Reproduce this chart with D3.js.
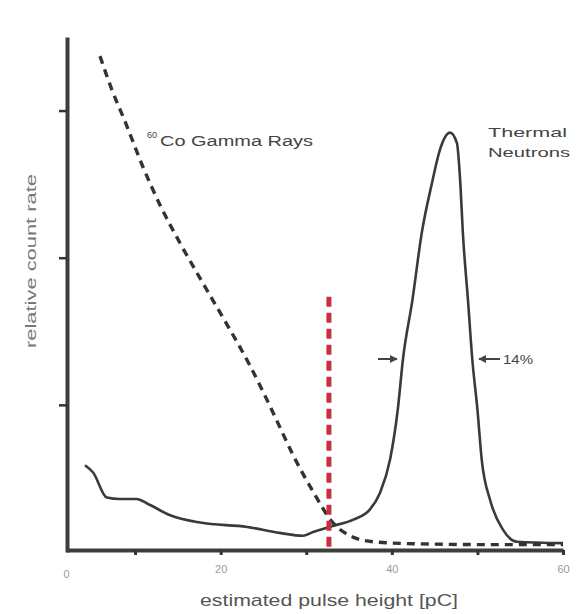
<!DOCTYPE html>
<html>
<head>
<meta charset="utf-8">
<script src="https://cdn.jsdelivr.net/npm/d3@7"></script>
<style>
  body { margin: 0; background: #fff; }
  text { font-family: "Liberation Sans", Arial, sans-serif; }
</style>
</head>
<body>
<div id="chart"></div>
<script>
// pulse height spectra (x in pC, y in arbitrary units)
var gammaX = [5.9, 7.3, 8.8, 10.9, 12.9, 15.25, 17.6, 20.5, 23.4, 26.1, 28.45, 30.8, 33.1, 35.5, 37.8, 43.3, 52.6, 60];
var gammaY = [3.37, 3.14, 2.93, 2.62, 2.36, 2.10, 1.86, 1.57, 1.27, 0.95, 0.66, 0.41, 0.20, 0.10, 0.07, 0.055, 0.05, 0.05];

var neutronX = [4.15, 5.1, 6.7, 8.2, 10.2, 11.4, 14.1, 17.6, 23.1, 26.9, 29.6, 30.8, 33.1, 35.5, 37.45, 38.6, 39.8, 40.7, 41.3, 42.4, 43.5, 44.7, 45.6, 46.8, 47.6, 48.0, 48.3, 48.9, 49.4, 50.0, 50.5, 51.5, 53.0, 54.6, 60];
var neutronY = [0.59, 0.54, 0.37, 0.36, 0.36, 0.33, 0.25, 0.20, 0.17, 0.13, 0.11, 0.136, 0.177, 0.22, 0.29, 0.40, 0.63, 0.97, 1.31, 1.71, 2.17, 2.51, 2.73, 2.85, 2.78, 2.51, 2.17, 1.71, 1.31, 0.97, 0.63, 0.35, 0.15, 0.07, 0.06];

var cutX = 32.65, cutTop = 1.735;   // red discrimination threshold
var xTicks = [10, 20, 30, 40, 50, 60];
var xLabels = [20, 40, 60];
var yTicks = [1, 2, 3];

var width = 578, height = 614;
var svg = d3.select("#chart").append("svg").attr("width", width).attr("height", height);

// the figure's axis starts a little right of the 10-spacing origin
var x = d3.scaleLinear().domain([2, 60]).range([66.6, 563]);
var y = d3.scaleLinear().domain([0, 3.5]).range([552, 37]);

// x axis
var xAxis = svg.append("g").attr("transform", "translate(0,550)")
    .call(d3.axisBottom(x).tickValues(xTicks).tickSize(5).tickSizeOuter(0)
        .tickFormat(function(d) { return xLabels.indexOf(d) >= 0 ? d : ""; }));
xAxis.select(".domain").attr("stroke", "#3d3d3d").attr("stroke-width", 4);
xAxis.selectAll(".tick line").attr("stroke", "#333").attr("stroke-width", 3);
xAxis.selectAll(".tick text").attr("fill", "#9a9a9a").attr("font-size", 11).attr("dy", "1.4em");
xAxis.append("text").attr("x", x(2)).attr("y", 5).attr("dy", "2.1em")
    .attr("fill", "#9a9a9a").attr("font-size", 11).attr("text-anchor", "middle").text("0");

// y axis
var yAxis = svg.append("g").attr("transform", "translate(67,0)")
    .call(d3.axisLeft(y).tickValues(yTicks).tickSize(8).tickSizeOuter(0).tickFormat(""));
yAxis.select(".domain").attr("stroke", "#3d3d3d").attr("stroke-width", 4);
yAxis.selectAll(".tick line").attr("stroke", "#333").attr("stroke-width", 2.5);

// axis titles
svg.append("text").attr("x", 329).attr("y", 606).attr("text-anchor", "middle")
    .attr("fill", "#555").attr("font-size", 17)
    .attr("textLength", 258).attr("lengthAdjust", "spacingAndGlyphs")
    .text("estimated pulse height [pC]");
svg.append("text").attr("transform", "translate(36,261) rotate(-90)").attr("text-anchor", "middle")
    .attr("fill", "#777").attr("font-size", 14)
    .attr("textLength", 174).attr("lengthAdjust", "spacingAndGlyphs")
    .text("relative count rate");

// curves
var gamma = gammaX.map(function(d, i) { return [d, gammaY[i]]; });
var neutron = neutronX.map(function(d, i) { return [d, neutronY[i]]; });

var line = d3.line()
    .x(function(d) { return x(d[0]); })
    .y(function(d) { return y(d[1]); })
    .curve(d3.curveMonotoneX);

svg.append("path").datum(neutron).attr("d", line)
    .attr("fill", "none").attr("stroke", "#3a3a3a").attr("stroke-width", 2.6);

svg.append("path").datum(gamma).attr("d", line)
    .attr("fill", "none").attr("stroke", "#333").attr("stroke-width", 3.4)
    .attr("stroke-dasharray", "8,6");

// threshold
svg.append("line")
    .attr("x1", x(cutX)).attr("x2", x(cutX))
    .attr("y1", y(cutTop)).attr("y2", y(0) - 2)
    .attr("stroke", "#c8303e").attr("stroke-width", 5)
    .attr("stroke-dasharray", "10,6");

// annotations
var ann = svg.append("g").attr("fill", "#444");
ann.append("text").attr("x", 160).attr("y", 146).attr("font-size", 14)
    .attr("textLength", 153).attr("lengthAdjust", "spacingAndGlyphs").text("Co Gamma Rays");
ann.append("text").attr("x", 147).attr("y", 138).attr("font-size", 9).text("60");
ann.append("text").attr("x", 488).attr("y", 137).attr("font-size", 13)
    .attr("textLength", 79).attr("lengthAdjust", "spacingAndGlyphs").text("Thermal");
ann.append("text").attr("x", 488).attr("y", 157).attr("font-size", 13)
    .attr("textLength", 82).attr("lengthAdjust", "spacingAndGlyphs").text("Neutrons");
ann.append("text").attr("x", 503).attr("y", 364).attr("font-size", 12)
    .attr("textLength", 30).attr("lengthAdjust", "spacingAndGlyphs").text("14%");

// FWHM arrows
svg.append("defs").append("marker").attr("id", "head")
    .attr("viewBox", "0 0 10 10").attr("refX", 9).attr("refY", 5)
    .attr("markerWidth", 4).attr("markerHeight", 4).attr("orient", "auto")
    .append("path").attr("d", "M0,0L10,5L0,10Z").attr("fill", "#444");
svg.append("line").attr("x1", 378).attr("x2", 397).attr("y1", 359).attr("y2", 359)
    .attr("stroke", "#444").attr("stroke-width", 2).attr("marker-end", "url(#head)");
svg.append("line").attr("x1", 500).attr("x2", 479).attr("y1", 359).attr("y2", 359)
    .attr("stroke", "#444").attr("stroke-width", 2).attr("marker-end", "url(#head)");
</script>
</body>
</html>
